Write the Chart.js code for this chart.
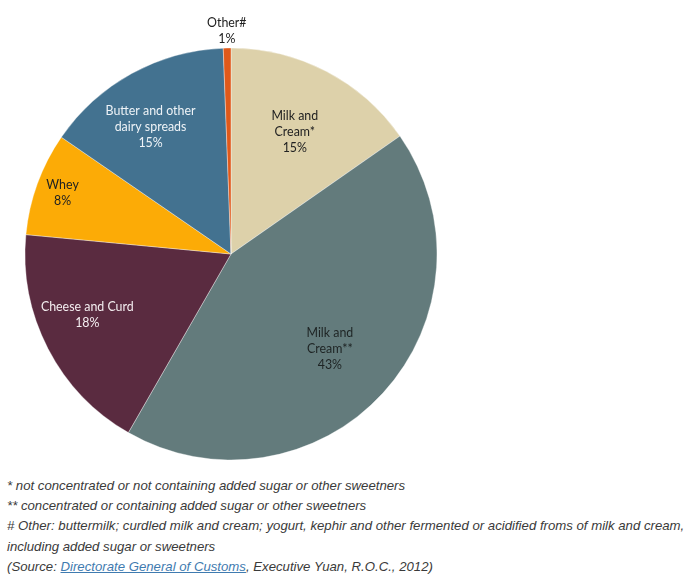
<!DOCTYPE html>
<html>
<head>
<meta charset="utf-8">
<script src="https://cdn.jsdelivr.net/npm/chart.js@4/dist/chart.umd.min.js"></script>
<style>
  html, body { margin: 0; padding: 0; background: #fff; }
  body { width: 692px; height: 586px; position: relative; overflow: hidden; }
  #wrap { position: absolute; left: 0; top: 0; width: 692px; height: 470px; }
  #notes { position: absolute; left: 7px; top: 476px; width: 684px;
    font-family: "Liberation Sans", Arial, sans-serif; font-style: italic;
    font-size: 13.2px; line-height: 20.2px; color: #3a3a3a; white-space: nowrap; }
  #notes a { color: #3f7bb0; text-decoration: underline; }
</style>
</head>
<body>
<div id="wrap"><canvas id="c"></canvas></div>
<div id="notes">
  <div>* not concentrated or not containing added sugar or other sweetners</div>
  <div>** concentrated or containing added sugar or other sweetners</div>
  <div># Other: buttermilk; curdled milk and cream; yogurt, kephir and other fermented or acidified froms of milk and cream,</div>
  <div>including added sugar or sweetners</div>
  <div>(Source: <a>Directorate General of Customs</a>, Executive Yuan, R.O.C., 2012)</div>
</div>
<script>
const categories = [["Milk and", "Cream*"], ["Milk and", "Cream**"], ["Cheese and Curd"], ["Whey"], ["Butter and other", "dairy spreads"], ["Other#"]];
const shareValues = [15.3, 43.0, 18.2, 8.1, 14.8, 0.6];
const percentLabels = ["15%", "43%", "18%", "8%", "15%", "1%"];

const sliceColors = ["#ddd1aa", "#637b7c", "#5a2b40", "#fcab06", "#437290", "#e0591a"];
const textColors = ["#222", "#1e2424", "#f4eef0", "#222", "#eef3f7", "#222"];
const labelRadius = [0.67, 0.667, 0.757, 0.87, 0.731, 1.083];
const labelAngleShift = [0, 1.5, 4.5, 0, -3.5, 0];

const labelPlugin = {
  id: 'sliceLabels',
  afterDatasetsDraw(chart) {
    const ctx = chart.ctx;
    const meta = chart.getDatasetMeta(0);
    ctx.save();
    ctx.font = '12.4px Lato, "Open Sans", sans-serif';
    ctx.textAlign = 'center';
    ctx.textBaseline = 'middle';
    meta.data.forEach((arc, i) => {
      const p = arc.getProps(['x', 'y', 'startAngle', 'endAngle', 'outerRadius'], true);
      const mid = (p.startAngle + p.endAngle) / 2 + labelAngleShift[i] * Math.PI / 180;
      const r = p.outerRadius * labelRadius[i];
      const cx = p.x + Math.cos(mid) * r;
      const cy = p.y + Math.sin(mid) * r;
      const lines = categories[i].concat([percentLabels[i]]);
      const lh = 16;
      const y0 = cy - (lines.length - 1) * lh / 2;
      ctx.fillStyle = textColors[i];
      lines.forEach((t, k) => ctx.fillText(t, cx, y0 + k * lh));
    });
    ctx.restore();
  }
};

new Chart(document.getElementById('c'), {
  type: 'pie',
  data: {
    labels: categories.map(c => c.join(' ')),
    datasets: [{
      data: shareValues,
      backgroundColor: sliceColors,
      borderColor: 'rgba(255,255,255,0.6)',
      borderWidth: 0.6
    }]
  },
  options: {
    responsive: true,
    maintainAspectRatio: false,
    animation: false,
    radius: 206,
    layout: { padding: { left: 25, right: 255, top: 48, bottom: 10 } },
    plugins: { legend: { display: false }, tooltip: { enabled: false } }
  },
  plugins: [labelPlugin]
});
</script>
</body>
</html>
